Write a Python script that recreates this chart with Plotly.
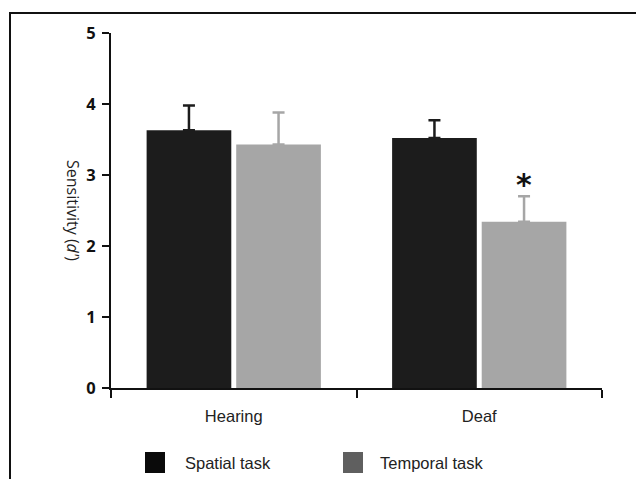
import plotly.graph_objects as go

groups = ["Hearing", "Deaf"]
spatial = [3.63, 3.52]
spatial_err = [0.35, 0.25]
temporal = [3.43, 2.34]
temporal_err = [0.45, 0.36]
y_ticks = [0, 1, 2, 3, 4, 5]
series_names = ["Spatial task", "Temporal task"]

# page body has an 8px margin, so the figure is a bit smaller than the window
W, H = 628, 471
L, R, T, B = 103, 34, 25, 91
pw, ph = W - L - R, H - T - B
OFF = 8

def px(x):  # screen x -> paper
    return (x - OFF - L) / pw

def py(y):  # screen y -> paper
    return (H - B - (y - OFF)) / ph

fig = go.Figure()
fig.add_trace(go.Bar(
    x=groups, y=spatial, name=series_names[0],
    marker=dict(color="#1c1c1c", line=dict(width=0)),
    error_y=dict(type="data", array=spatial_err, arrayminus=[0, 0], symmetric=False,
                 color="#1c1c1c", thickness=2.5, width=6),
    showlegend=False,
))
fig.add_trace(go.Bar(
    x=groups, y=temporal, name=series_names[1],
    marker=dict(color="#a6a6a6", line=dict(width=0)),
    error_y=dict(type="data", array=temporal_err, arrayminus=[0, 0], symmetric=False,
                 color="#a6a6a6", thickness=2.5, width=6),
    showlegend=False,
))

fig.update_layout(
    width=W, height=H,
    margin=dict(l=L, r=R, t=T, b=B, pad=0),
    paper_bgcolor="white", plot_bgcolor="white",
    barmode="group", bargap=0.27, bargroupgap=0.055,
    font=dict(family="Liberation Sans, Arial, sans-serif", color="#222"),
    xaxis=dict(
        range=[-0.5, 1.5], tickson="boundaries", ticks="outside", ticklen=8, tickwidth=2,
        tickcolor="#111", showline=True, linecolor="#111", linewidth=2,
        showgrid=False, zeroline=False, ticklabelstandoff=12,
        tickfont=dict(size=16.5, color="#222"),
    ),
    yaxis=dict(
        range=[0, 5], tickvals=y_ticks, ticks="outside", ticklen=7, tickwidth=2,
        tickcolor="#111", showline=True, linecolor="#111", linewidth=2,
        showgrid=False, zeroline=False, ticklabelstandoff=3,
        tickfont=dict(size=16.5, color="#111", family="Open Sans, sans-serif", weight="bold"),
    ),
)

# y-axis title rotated clockwise
fig.add_annotation(
    x=px(73), y=py(210), xref="paper", yref="paper", xanchor="center", yanchor="middle",
    text="Sensitivity (<i>d'</i>)", textangle=90, showarrow=False,
    font=dict(size=16, color="#222", family="Open Sans, sans-serif"),
)

# significance asterisk
fig.add_annotation(
    x=groups[1], y=temporal[1] + temporal_err[1], xref="x", yref="y",
    text="<b>*</b>", showarrow=False, xshift=45, yshift=12,
    font=dict(size=30, color="#111", family="DejaVu Sans, sans-serif"),
)

# outer frame
fig.add_shape(type="rect", xref="paper", yref="paper",
              x0=px(10), x1=px(720), y0=py(620), y1=py(13),
              line=dict(color="#111", width=2), fillcolor="rgba(0,0,0,0)", layer="below")

# legend
legend_items = [(145, "#0a0a0a", 183, series_names[0]), (343, "#5f5f5f", 378, series_names[1])]
for x0, col, tx, name in legend_items:
    fig.add_shape(type="rect", xref="paper", yref="paper",
                  x0=px(x0), x1=px(x0 + 20), y0=py(473), y1=py(452),
                  line=dict(width=0), fillcolor=col)
    fig.add_annotation(x=px(tx), y=py(463), xref="paper", yref="paper",
                       xanchor="left", yanchor="middle",
                       text=name, showarrow=False,
                       font=dict(size=16.5, color="#222"))

fig.write_html("out.html")
